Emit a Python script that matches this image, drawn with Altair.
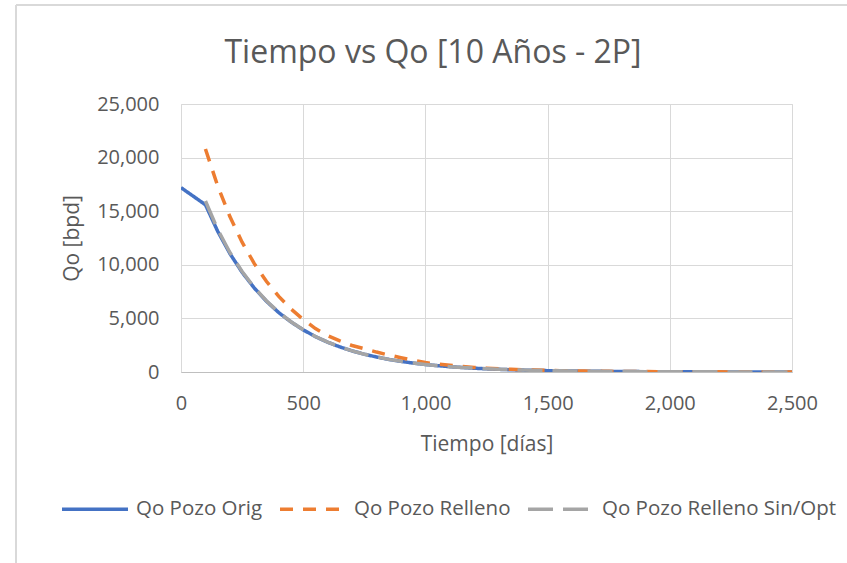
import altair as alt
import pandas as pd

TITLE = ["Tiempo vs Qo [10 Años - 2P]"]
SERIES = ["Qo Pozo Orig", "Qo Pozo Relleno", "Qo Pozo Relleno Sin/Opt"]
COLORS = ["#4472C4", "#ED7D31", "#A5A5A5"]
DASHES = [[1, 0], [13, 10], [25, 10]]

DAYS_ORIG = [0, 50, 100, 150, 200, 250, 300, 350, 400, 450, 500, 550, 600, 650, 700,
             750, 800, 850, 900, 950, 1000, 1050, 1100, 1150, 1200, 1250, 1300, 1350,
             1400, 1450, 1500, 1550, 1600, 1650, 1700, 1750, 1800, 1850, 1900, 1950,
             2000, 2050, 2100, 2150, 2200, 2250, 2300, 2350, 2400, 2450, 2500]
QO_ORIG = [17200, 16400, 15600, 13130, 11050, 9300, 7830, 6590, 5540, 4670,
           3930, 3300, 2780, 2340, 1970, 1660, 1400, 1175, 990, 833,
           700, 590, 497, 418, 352, 296, 249, 210, 177, 149,
           125, 105, 89, 75, 63, 53, 45, 38, 32, 27,
           22, 19, 16, 13, 11, 9, 8, 7, 6, 5, 4]

DAYS_RELL = [100, 150, 200, 250, 300, 350, 400, 450, 500, 550, 600, 650, 700,
             750, 800, 850, 900, 950, 1000, 1050, 1100, 1150, 1200, 1250, 1300, 1350,
             1400, 1450, 1500, 1550, 1600, 1650, 1700, 1750, 1800, 1850, 1900, 1950,
             2000, 2050, 2100, 2150, 2200, 2250, 2300, 2350, 2400, 2450, 2500]
QO_RELLENO = [20800, 17370, 14500, 12110, 10110, 8440, 7050, 5890, 4900, 4050,
              3400, 2900, 2470, 2180, 1860, 1580, 1330, 1090, 880, 740,
              620, 520, 430, 360, 300, 250, 210, 175, 145, 122,
              103, 87, 73, 62, 52, 44, 37, 31, 26, 22,
              19, 16, 13, 11, 9, 8, 7, 6, 5]
QO_SINOPT = [15950, 13300, 11150, 9370, 7880, 6630, 5570, 4690, 3945, 3310,
             2785, 2345, 1972, 1662, 1401, 1176, 991, 834, 701, 591,
             498, 419, 353, 297, 250, 211, 178, 150, 126, 106,
             90, 76, 64, 54, 46, 39, 33, 28, 23, 20,
             17, 14, 12, 10, 9, 8, 7, 6, 5]

X_TICKS = [0, 500, 1000, 1500, 2000, 2500]
Y_TICKS = [0, 5000, 10000, 15000, 20000, 25000]

rows = []
for d, v in zip(DAYS_ORIG, QO_ORIG):
    rows.append({"Serie": SERIES[0], "t": d, "qo": v})
for d, v in zip(DAYS_RELL, QO_RELLENO):
    rows.append({"Serie": SERIES[1], "t": d, "qo": v})
for d, v in zip(DAYS_RELL, QO_SINOPT):
    rows.append({"Serie": SERIES[2], "t": d, "qo": v})
df = pd.DataFrame(rows)

FONT = "Open Sans"
TXT = "#595959"
W, H = 611, 268

color = alt.Color("Serie:N", scale=alt.Scale(domain=SERIES, range=COLORS),
                  legend=alt.Legend(title=None, orient="none", direction="horizontal",
                                    legendX=-121, legendY=370,
                                    symbolType="stroke", symbolSize=4356,
                                    symbolStrokeWidth=3.5, labelFontSize=20.5,
                                    labelFont=FONT, labelColor=TXT, labelOffset=6,
                                    columnPadding=10, labelLimit=400))
dash = alt.StrokeDash("Serie:N", scale=alt.Scale(domain=SERIES, range=DASHES), legend=None)

base = alt.Chart(df).mark_line(strokeWidth=3.5, clip=True).encode(
    x=alt.X("t:Q", scale=alt.Scale(domain=[0, 2500], nice=False),
            axis=alt.Axis(values=X_TICKS, format=",d", title="Tiempo [días]",
                          titleFontSize=21, titleFont=FONT, titleColor=TXT,
                          titleFontWeight="normal", titlePadding=20,
                          labelFontSize=20, labelFont=FONT, labelColor=TXT,
                          labelPadding=21, labelFlush=False, ticks=False,
                          domainColor="#BFBFBF", gridColor="#D9D9D9")),
    y=alt.Y("qo:Q", scale=alt.Scale(domain=[0, 25000], nice=False),
            axis=alt.Axis(values=Y_TICKS, format=",d", title="Qo [bpd]",
                          titleFontSize=21, titleFont=FONT, titleColor=TXT,
                          titleFontWeight="normal", titlePadding=14,
                          labelFontSize=20, labelFont=FONT, labelColor=TXT,
                          labelPadding=22, labelFlush=False, ticks=False, domain=False,
                          gridColor="#D9D9D9")),
    color=color,
    strokeDash=dash,
)

layers = [base.transform_filter(alt.datum.Serie == s) for s in SERIES]

border_top = alt.Chart(df).mark_rule(color="#D9D9D9", strokeWidth=2).encode(
    x=alt.value(-165), x2=alt.value(700), y=alt.value(-99))
border_left = alt.Chart(df).mark_rule(color="#D9D9D9", strokeWidth=2).encode(
    x=alt.value(-165), y=alt.value(-99), y2=alt.value(500))

title = alt.Chart(pd.DataFrame({"title": TITLE})).mark_text(
    font=FONT, fontSize=32, color=TXT, align="center", baseline="middle").encode(
    text="title:N", x=alt.value(252), y=alt.value(-51))

chart = alt.layer(border_top, border_left, title, *layers).properties(
    width=W, height=H,
    autosize=alt.AutoSizeParams(type="none"),
    padding={"left": 181, "top": 104, "right": 55, "bottom": 191},
).configure_view(stroke=None).configure(background="white")

chart.save("out.html", embed_options={"renderer": "svg", "actions": False})
